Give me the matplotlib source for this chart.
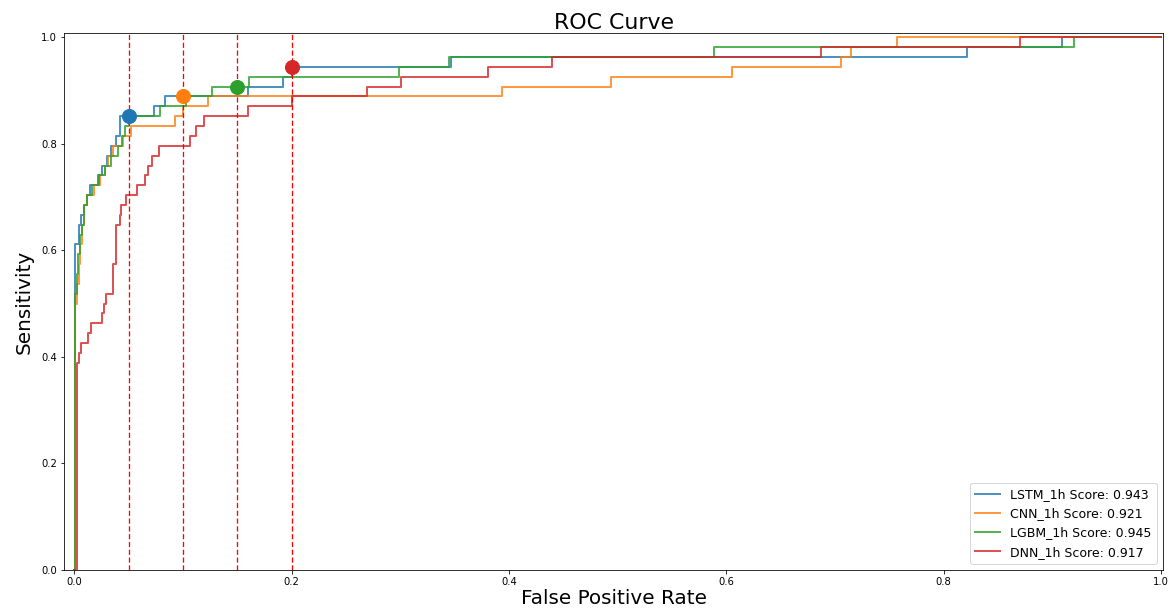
import numpy as np
import matplotlib.pyplot as plt

# number of positives in the test set (tpr steps are k / 54)
n_pos = 54

# fpr where each step starts, and the positive count reached there
lstm_fpr = [0, 0.0003, 0.004, 0.006, 0.009, 0.012, 0.014, 0.022, 0.025, 0.030, 0.034, 0.038, 0.042,
            0.073, 0.083, 0.160, 0.192, 0.200, 0.347, 0.822, 0.909, 1.0]
lstm_k = [0, 33, 35, 36, 37, 38, 39, 40, 41, 42, 43, 44, 46,
          47, 48, 49, 50, 51, 52, 53, 54, 54]

cnn_fpr = [0, 0.0005, 0.002, 0.004, 0.005, 0.007, 0.009, 0.012, 0.018, 0.024, 0.028, 0.031, 0.036,
           0.039, 0.045, 0.052, 0.093, 0.100, 0.123, 0.394, 0.494, 0.605, 0.706, 0.715, 0.757, 1.0]
cnn_k = [0, 27, 29, 31, 33, 35, 37, 38, 39, 40, 41, 42, 43,
         43, 44, 45, 46, 47, 48, 49, 50, 51, 52, 53, 54, 54]

lgbm_fpr = [0, 0.0003, 0.002, 0.003, 0.005, 0.007, 0.009, 0.012, 0.016, 0.023, 0.028, 0.034, 0.040,
            0.044, 0.047, 0.050, 0.079, 0.103, 0.127, 0.161, 0.299, 0.345, 0.589, 0.920, 1.0]
lgbm_k = [0, 28, 30, 32, 34, 35, 37, 38, 39, 40, 41, 42, 43,
          44, 45, 46, 47, 48, 49, 50, 51, 52, 53, 54, 54]

dnn_fpr = [0, 0.0025, 0.004, 0.0064, 0.0126, 0.0156, 0.0253, 0.027, 0.029, 0.0353, 0.0383, 0.0423,
           0.0432, 0.0475, 0.058, 0.065, 0.068, 0.0714, 0.0776, 0.1067, 0.112, 0.119, 0.160, 0.200,
           0.269, 0.301, 0.381, 0.440, 0.687, 0.870, 1.0]
dnn_k = [0, 21, 22, 23, 24, 25, 26, 27, 28, 31, 35, 36,
         37, 38, 39, 40, 41, 42, 43, 44, 45, 46, 47, 48,
         49, 50, 51, 52, 53, 54, 54]

names = ['LSTM_1h', 'CNN_1h', 'LGBM_1h', 'DNN_1h']
scores = [0.943, 0.921, 0.945, 0.917]
fprs = [lstm_fpr, cnn_fpr, lgbm_fpr, dnn_fpr]
ks = [lstm_k, cnn_k, lgbm_k, dnn_k]

# cut-off points marked on the plot
cut_fpr = [0.05, 0.1, 0.15, 0.2]
cut_k = [46, 48, 49, 51]

colors = ['tab:blue', 'tab:orange', 'tab:green', 'tab:red']

fig = plt.figure(figsize=(1173 / 72, 616 / 72), dpi=72)
ax = fig.add_axes([0.0546, 0.0747, 0.9369, 0.8717])

for name, score, fpr, k, c in zip(names, scores, fprs, ks, colors):
    tpr = np.array(k) / n_pos
    ax.plot(fpr, tpr, drawstyle='steps-post', color=c, lw=2, alpha=0.8,
            label=f'{name} Score: {score}')

for x in cut_fpr:
    ax.axvline(x, color='#ff0000', ls='--', lw=1.3, dashes=(4, 2))

for x, k, c in zip(cut_fpr, cut_k, colors):
    ax.plot(x, k / n_pos, 'o', color=c, markersize=14)

ax.set_xlim(-0.0095, 1.002)
ax.set_ylim(0, 1.008)
ax.set_xticks(np.arange(0, 1.01, 0.2))
ax.set_yticks(np.arange(0, 1.01, 0.2))
ax.set_title('ROC Curve', fontsize=22, pad=4)
ax.set_xlabel('False Positive Rate', fontsize=20, labelpad=2)
ax.set_ylabel('Sensitivity', fontsize=20, labelpad=8)
ax.legend(loc='lower right', fontsize=12.5)

fig.savefig('out.png', dpi=72)
